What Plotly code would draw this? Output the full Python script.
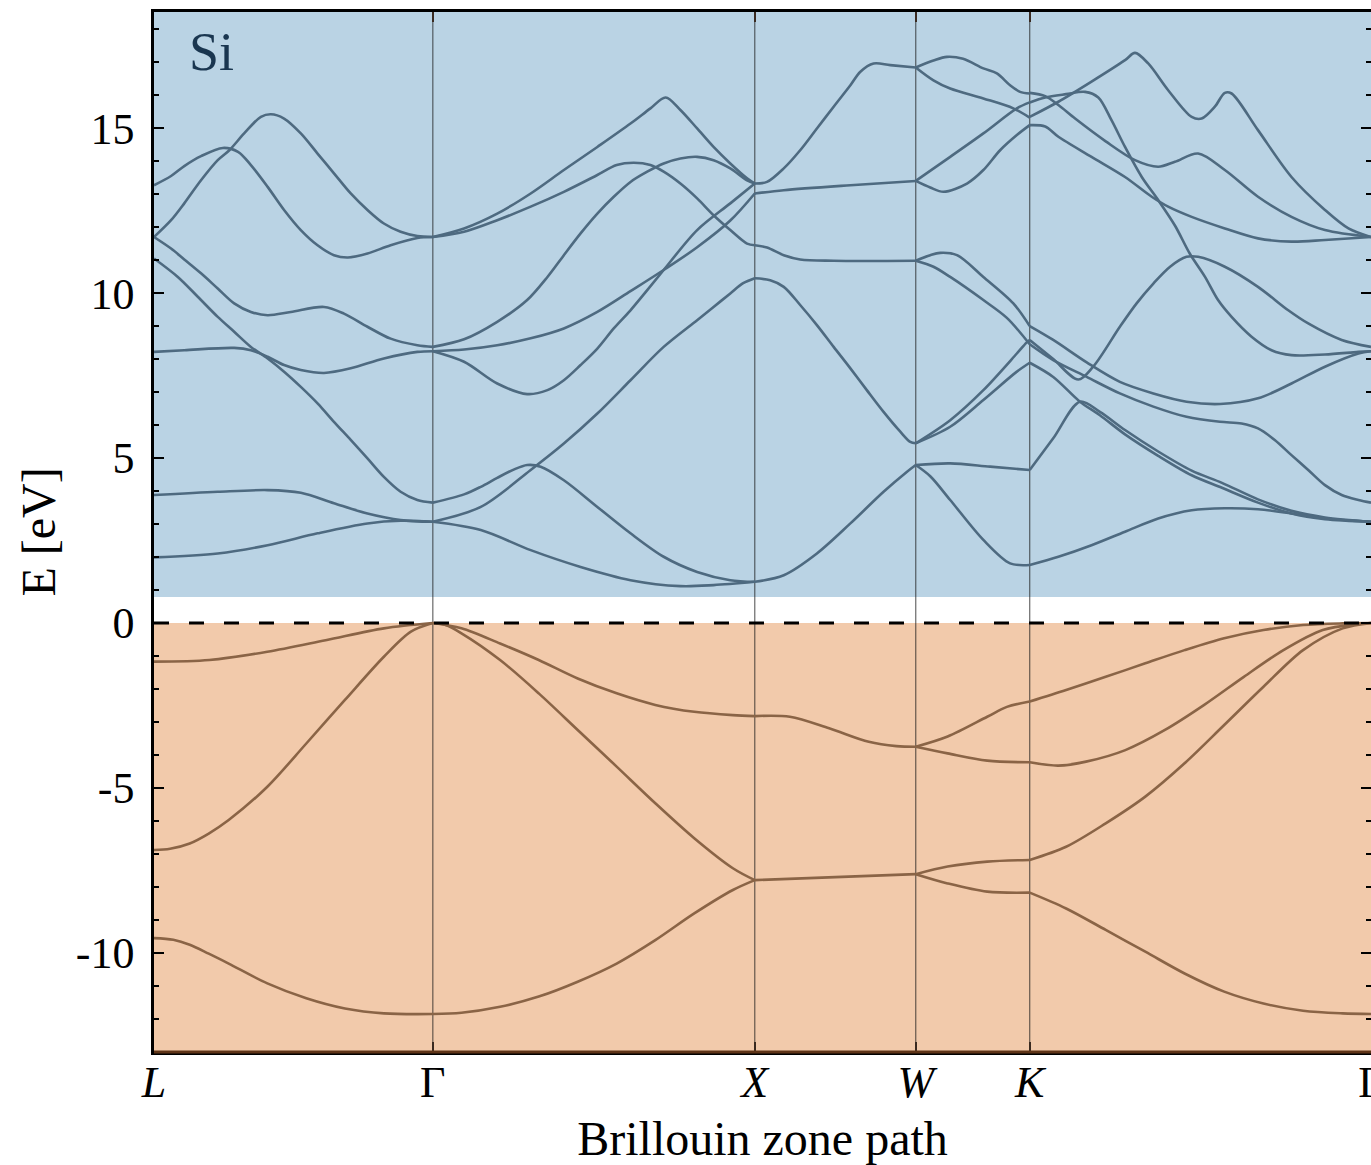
import plotly.graph_objects as go

# ---------------- high-symmetry path (units of 2*pi/a) ----------------
sym_k = [0.0, 0.866, 1.866, 2.366, 2.720, 3.780]
sym_labels = ["<i>L</i>", "Γ", "<i>X</i>", "<i>W</i>", "<i>K</i>", "Γ"]

E_min, E_max = -13.0, 18.52
cb_fill_bottom = 0.79   # lower edge of the shaded conduction region (eV)
y_tick_vals = [-10, -5, 0, 5, 10, 15]
y_tick_text = ["-10", "-5", "0", "5", "10", "15"]

# ---------------- conduction bands, per path segment: (k, E) ----------------
cond_L_G = [
    ([0, 0.053, 0.094, 0.146, 0.214, 0.261, 0.301, 0.353, 0.404, 0.456, 0.508, 0.559, 0.602, 0.663, 0.735, 0.818, 0.866],
     [13.27, 13.55, 13.85, 14.15, 14.40, 14.28, 13.88, 13.22, 12.52, 11.91, 11.45, 11.15, 11.08, 11.2, 11.45, 11.67, 11.7]),
    ([0, 0.053, 0.094, 0.146, 0.198, 0.234, 0.280, 0.332, 0.363, 0.404, 0.456, 0.508, 0.559, 0.611, 0.663, 0.714, 0.766, 0.818, 0.866],
     [11.7, 12.21, 12.72, 13.42, 14.03, 14.33, 14.84, 15.34, 15.42, 15.29, 14.84, 14.23, 13.63, 13.02, 12.52, 12.11, 11.86, 11.73, 11.7]),
    ([0, 0.053, 0.094, 0.146, 0.198, 0.249, 0.301, 0.353, 0.425, 0.528, 0.590, 0.663, 0.735, 0.818, 0.866],
     [11.7, 11.35, 11.02, 10.6, 10.14, 9.69, 9.43, 9.33, 9.43, 9.58, 9.38, 8.98, 8.62, 8.42, 8.37]),
    ([0, 0.074, 0.136, 0.198, 0.249, 0.301, 0.353, 0.404, 0.456, 0.508, 0.559, 0.611, 0.663, 0.714, 0.766, 0.818, 0.866],
     [11.05, 10.49, 9.89, 9.28, 8.83, 8.37, 8.02, 7.62, 7.16, 6.66, 6.1, 5.55, 4.99, 4.43, 3.98, 3.73, 3.65]),
    ([0, 0.094, 0.249, 0.301, 0.353, 0.404, 0.456, 0.528, 0.611, 0.714, 0.818, 0.866],
     [8.22, 8.27, 8.34, 8.27, 8.07, 7.82, 7.67, 7.58, 7.72, 8.02, 8.22, 8.24]),
    ([0, 0.198, 0.353, 0.456, 0.559, 0.663, 0.766, 0.866],
     [3.88, 3.98, 4.03, 3.95, 3.63, 3.32, 3.12, 3.07]),
    ([0, 0.198, 0.353, 0.508, 0.663, 0.766, 0.866],
     [1.99, 2.11, 2.36, 2.72, 3.02, 3.1, 3.07]),
]

cond_G_X = [
    ([0.866, 0.963, 1.066, 1.170, 1.273, 1.377, 1.480, 1.542, 1.589, 1.635, 1.687, 1.738, 1.790, 1.842, 1.866],
     [11.7, 11.96, 12.41, 13.02, 13.73, 14.43, 15.14, 15.6, 15.93, 15.55, 14.99, 14.43, 13.93, 13.48, 13.32]),
    ([0.866, 0.963, 1.066, 1.170, 1.273, 1.377, 1.437, 1.490, 1.542, 1.583, 1.635, 1.687, 1.738, 1.790, 1.842, 1.866],
     [11.7, 11.86, 12.21, 12.62, 13.07, 13.58, 13.88, 13.95, 13.88, 13.68, 13.32, 12.87, 12.36, 11.91, 11.5, 11.45]),
    ([0.866, 0.963, 1.066, 1.159, 1.222, 1.273, 1.325, 1.377, 1.428, 1.480, 1.532, 1.583, 1.635, 1.687, 1.738, 1.790, 1.842, 1.866],
     [8.37, 8.6, 9.13, 9.79, 10.49, 11.15, 11.81, 12.41, 12.92, 13.37, 13.68, 13.93, 14.08, 14.13, 14.03, 13.78, 13.42, 13.32]),
    ([0.866, 0.963, 1.066, 1.170, 1.273, 1.377, 1.480, 1.583, 1.687, 1.790, 1.866],
     [8.24, 8.29, 8.42, 8.63, 8.93, 9.43, 10.06, 10.7, 11.39, 12.2, 13.02]),
    ([0.866, 0.963, 1.066, 1.159, 1.222, 1.273, 1.325, 1.377, 1.428, 1.480, 1.532, 1.583, 1.687, 1.790, 1.866],
     [8.24, 7.92, 7.26, 6.94, 7.06, 7.36, 7.82, 8.32, 8.93, 9.48, 10.09, 10.7, 11.91, 12.72, 13.32]),
    ([0.866, 1.015, 1.170, 1.273, 1.377, 1.480, 1.583, 1.687, 1.738, 1.790, 1.830, 1.866],
     [3.07, 3.52, 4.64, 5.44, 6.35, 7.36, 8.37, 9.18, 9.58, 9.99, 10.3, 10.45]),
    ([0.866, 1.015, 1.170, 1.325, 1.480, 1.635, 1.738, 1.866],
     [3.07, 2.82, 2.21, 1.7, 1.3, 1.12, 1.15, 1.25]),
    ([0.866, 0.963, 1.015, 1.066, 1.117, 1.159, 1.201, 1.273, 1.377, 1.480, 1.583, 1.687, 1.790, 1.866],
     [3.65, 3.9, 4.13, 4.4, 4.65, 4.79, 4.74, 4.33, 3.52, 2.72, 2.01, 1.55, 1.3, 1.25]),
]

cond_X_W = [
    ([1.866, 1.904, 1.956, 2.007, 2.059, 2.111, 2.163, 2.194, 2.235, 2.287, 2.366],
     [13.32, 13.37, 13.78, 14.33, 14.99, 15.65, 16.3, 16.71, 16.96, 16.91, 16.84]),
    ([1.866, 1.956, 2.163, 2.366],
     [13.02, 13.12, 13.27, 13.4]),
    ([1.866, 1.904, 1.956, 2.007, 2.111, 2.366],
     [11.45, 11.38, 11.15, 11.02, 10.98, 10.98]),
    ([1.866, 1.914, 1.956, 2.007, 2.059, 2.111, 2.163, 2.214, 2.266, 2.318, 2.349, 2.366],
     [10.45, 10.39, 10.19, 9.64, 9.03, 8.37, 7.72, 7.06, 6.4, 5.8, 5.49, 5.45]),
    ([1.866, 1.956, 2.059, 2.163, 2.266, 2.338, 2.366],
     [1.25, 1.45, 2.11, 3.02, 3.98, 4.58, 4.79]),
]

cond_W_K = [
    ([2.366, 2.421, 2.463, 2.513, 2.576, 2.618, 2.659, 2.690, 2.720],
     [16.84, 17.05, 17.16, 17.1, 16.81, 16.66, 16.3, 16.1, 16.05]),
    ([2.366, 2.421, 2.473, 2.576, 2.669, 2.720],
     [16.84, 16.45, 16.2, 15.9, 15.6, 15.32]),
    ([2.366, 2.473, 2.576, 2.680, 2.720],
     [13.4, 14.13, 14.84, 15.6, 15.78]),
    ([2.366, 2.411, 2.452, 2.525, 2.576, 2.628, 2.680, 2.720],
     [13.4, 13.2, 13.07, 13.32, 13.73, 14.33, 14.79, 15.09]),
    ([2.366, 2.411, 2.442, 2.494, 2.576, 2.669, 2.720],
     [10.98, 11.15, 11.22, 11.15, 10.49, 9.69, 9.0]),
    ([2.366, 2.421, 2.473, 2.576, 2.649, 2.720],
     [10.98, 10.8, 10.49, 9.79, 9.25, 8.45]),
    ([2.366, 2.473, 2.576, 2.680, 2.710, 2.720],
     [5.45, 6.15, 7.06, 8.17, 8.5, 8.58]),
    ([2.366, 2.473, 2.576, 2.680, 2.720],
     [5.45, 5.95, 6.76, 7.62, 7.89]),
    ([2.366, 2.473, 2.597, 2.720],
     [4.79, 4.84, 4.74, 4.64]),
    ([2.366, 2.411, 2.473, 2.576, 2.659, 2.720],
     [4.79, 4.45, 3.73, 2.52, 1.81, 1.76]),
]

cond_K_G = [
    ([2.720, 2.809, 2.912, 3.016, 3.047, 3.088, 3.150, 3.223, 3.254, 3.295, 3.326, 3.347, 3.429, 3.533, 3.637, 3.710, 3.780],
     [15.34, 15.8, 16.41, 17.06, 17.28, 16.96, 16.15, 15.34, 15.29, 15.65, 16.07, 16.05, 14.94, 13.52, 12.52, 11.96, 11.7]),
    ([2.720, 2.768, 2.809, 2.861, 2.956, 3.047, 3.119, 3.171, 3.243, 3.326, 3.429, 3.533, 3.637, 3.780],
     [16.07, 15.97, 15.7, 15.29, 14.6, 14.03, 13.83, 13.98, 14.23, 13.73, 12.92, 12.31, 11.91, 11.7]),
    ([2.720, 2.768, 2.833, 2.892, 2.933, 2.974, 3.016, 3.068, 3.119, 3.171, 3.217, 3.264, 3.305, 3.347, 3.409, 3.471, 3.533, 3.637, 3.741, 3.780],
     [15.78, 15.93, 16.03, 16.1, 15.93, 15.24, 14.43, 13.52, 12.82, 12.05, 11.2, 10.5, 9.79, 9.28, 8.68, 8.27, 8.12, 8.14, 8.22, 8.24]),
    ([2.720, 2.768, 2.809, 2.912, 3.016, 3.099, 3.150, 3.223, 3.326, 3.429, 3.533, 3.637, 3.780],
     [15.09, 15.05, 14.74, 14.13, 13.52, 12.92, 12.62, 12.31, 11.96, 11.66, 11.56, 11.61, 11.7]),
    ([2.720, 2.793, 2.871, 2.917, 3.000, 3.052, 3.104, 3.156, 3.207, 3.243, 3.326, 3.429, 3.523, 3.585, 3.689, 3.780],
     [8.58, 8.0, 7.38, 7.77, 8.98, 9.69, 10.29, 10.8, 11.1, 11.1, 10.8, 10.19, 9.48, 9.08, 8.58, 8.37]),
    ([2.720, 2.793, 2.897, 3.000, 3.104, 3.207, 3.311, 3.429, 3.533, 3.637, 3.741, 3.780],
     [9.0, 8.58, 7.9, 7.31, 6.96, 6.71, 6.64, 6.81, 7.26, 7.77, 8.17, 8.24]),
    ([2.720, 2.793, 2.897, 3.000, 3.104, 3.207, 3.311, 3.378, 3.429, 3.481, 3.533, 3.585, 3.637, 3.689, 3.741, 3.780],
     [8.45, 7.97, 7.46, 6.96, 6.56, 6.25, 6.1, 6.05, 5.9, 5.55, 5.09, 4.64, 4.18, 3.88, 3.73, 3.65]),
    ([2.720, 2.793, 2.876, 2.938, 3.016, 3.119, 3.223, 3.317, 3.429, 3.533, 3.637, 3.780],
     [4.64, 5.6, 6.71, 6.4, 5.85, 5.2, 4.62, 4.25, 3.75, 3.4, 3.2, 3.07]),
    ([2.720, 2.793, 2.876, 2.938, 3.016, 3.119, 3.223, 3.317, 3.429, 3.533, 3.637, 3.780],
     [7.89, 7.46, 6.71, 6.3, 5.72, 5.07, 4.48, 4.1, 3.65, 3.32, 3.15, 3.07]),
    ([2.720, 2.809, 2.912, 3.016, 3.119, 3.223, 3.326, 3.429, 3.533, 3.637, 3.780],
     [1.76, 2.01, 2.36, 2.77, 3.17, 3.42, 3.48, 3.45, 3.32, 3.17, 3.07]),
]

# ---------------- valence bands ----------------
val_L_G = [
    ([0, 0.172, 0.352, 0.533, 0.714, 0.866], [-1.17, -1.12, -0.87, -0.52, -0.16, 0.0]),
    ([0, 0.05, 0.111, 0.17, 0.232, 0.352, 0.473, 0.593, 0.714, 0.798, 0.866],
     [-6.88, -6.84, -6.68, -6.38, -5.97, -4.96, -3.65, -2.33, -1.02, -0.26, 0.0]),
    ([0, 0.06, 0.111, 0.17, 0.232, 0.352, 0.473, 0.593, 0.714, 0.866],
     [-9.55, -9.6, -9.75, -10.02, -10.32, -10.92, -11.37, -11.68, -11.83, -11.85]),
]
val_G_X = [
    ([0.866, 0.955, 1.075, 1.195, 1.316, 1.437, 1.557, 1.678, 1.798, 1.866], [0.0, -0.16, -0.62, -1.12, -1.68, -2.13, -2.48, -2.69, -2.79, -2.82]),
    ([0.866, 0.906, 0.955, 1.075, 1.195, 1.316, 1.437, 1.557, 1.678, 1.798, 1.866], [0.0, -0.06, -0.31, -1.12, -2.13, -3.24, -4.35, -5.46, -6.52, -7.43, -7.79]),
    ([0.866, 0.955, 1.075, 1.195, 1.316, 1.437, 1.557, 1.678, 1.798, 1.866], [-11.85, -11.81, -11.63, -11.32, -10.87, -10.32, -9.61, -8.8, -8.09, -7.79]),
]
val_X_W = [
    ([1.866, 1.975, 2.097, 2.220, 2.306, 2.366], [-2.82, -2.84, -3.19, -3.6, -3.73, -3.75]),
    ([1.866, 2.116, 2.366], [-7.79, -7.70, -7.61]),
]
val_W_K = [
    ([2.366, 2.465, 2.588, 2.649, 2.720], [-3.75, -3.44, -2.84, -2.54, -2.38]),
    ([2.366, 2.465, 2.588, 2.720], [-3.75, -3.95, -4.17, -4.22]),
    ([2.366, 2.465, 2.588, 2.720], [-7.61, -7.38, -7.23, -7.18]),
    ([2.366, 2.465, 2.588, 2.720], [-7.61, -7.89, -8.14, -8.17]),
]
val_K_G = [
    ([2.720, 2.833, 2.956, 3.079, 3.201, 3.324, 3.446, 3.569, 3.692, 3.780], [-2.38, -2.03, -1.63, -1.22, -0.82, -0.46, -0.21, -0.06, -0.01, 0.0]),
    ([2.720, 2.809, 2.895, 3.017, 3.140, 3.262, 3.385, 3.508, 3.630, 3.741, 3.780], [-4.22, -4.32, -4.2, -3.85, -3.24, -2.48, -1.63, -0.82, -0.21, -0.03, 0.0]),
    ([2.720, 2.833, 2.956, 3.079, 3.201, 3.324, 3.446, 3.569, 3.692, 3.780], [-7.18, -6.78, -6.07, -5.26, -4.25, -3.09, -1.93, -0.82, -0.16, 0.0]),
    ([2.720, 2.833, 2.956, 3.079, 3.201, 3.324, 3.446, 3.569, 3.692, 3.780], [-8.17, -8.65, -9.3, -9.96, -10.62, -11.17, -11.53, -11.75, -11.83, -11.85]),
]

# ---------------- styling ----------------
FONT = "Liberation Serif, Times New Roman, serif"
CB_FILL = "#bad3e4"
VB_FILL = "#f2caab"
CB_LINE = "#4e6a80"
VB_LINE = "#8a6446"

fig = go.Figure()

def add_bands(groups, color):
    for group in groups:
        for k, e in group:
            fig.add_trace(go.Scatter(
                x=k, y=e, mode="lines",
                line=dict(color=color, width=2.6, shape="spline", smoothing=0.9),
                hoverinfo="skip", showlegend=False))

add_bands([cond_L_G, cond_G_X, cond_X_W, cond_W_K, cond_K_G], CB_LINE)
add_bands([val_L_G, val_G_X, val_X_W, val_W_K, val_K_G], VB_LINE)

# dummy trace for the mirrored right-hand tick axis
fig.add_trace(go.Scatter(x=[sym_k[0]], y=[0], yaxis="y2", mode="markers",
                         marker=dict(opacity=0), hoverinfo="skip", showlegend=False))

shapes = [
    dict(type="rect", xref="x", yref="y", x0=sym_k[0], x1=sym_k[-1], y0=cb_fill_bottom, y1=E_max,
         fillcolor=CB_FILL, line=dict(width=0), layer="below"),
    dict(type="rect", xref="x", yref="y", x0=sym_k[0], x1=sym_k[-1], y0=E_min, y1=0,
         fillcolor=VB_FILL, line=dict(width=0), layer="below"),
]
for kk in sym_k[1:-1]:
    shapes.append(dict(type="line", xref="x", yref="y", x0=kk, x1=kk, y0=E_min, y1=E_max,
                       line=dict(color="rgba(25,25,25,0.65)", width=1.2), layer="below"))
shapes.append(dict(type="line", xref="x", yref="y", x0=sym_k[0], x1=sym_k[-1], y0=0, y1=0,
                   line=dict(color="black", width=3, dash="15px,20px"), layer="above"))
shapes.append(dict(type="line", xref="paper", yref="paper", x0=0, x1=1, y0=0, y1=0,
                   line=dict(color="#5e3417", width=3), layer="above"))

fig.update_layout(
    width=1371, height=1165,
    margin=dict(l=154, r=0, t=12, b=113, autoexpand=False),
    paper_bgcolor="white", plot_bgcolor="white",
    font=dict(family=FONT, size=44, color="black"),
    shapes=shapes,
    xaxis=dict(
        range=[sym_k[0], sym_k[-1]], tickmode="array", tickvals=sym_k, ticktext=sym_labels,
        ticks="inside", ticklen=10, tickwidth=2, tickcolor="#3a2a20",
        showline=True, linecolor="black", linewidth=2.5, mirror="ticks",
        showgrid=False, zeroline=False, ticklabeloverflow="allow", automargin=False,
        tickfont=dict(family=FONT, size=44, color="black"), ticklabelstandoff=-11,
        title=dict(text="Brillouin zone path", font=dict(family=FONT, size=48, color="black"), standoff=18),
    ),
    yaxis=dict(
        range=[E_min, E_max], tickmode="array", tickvals=y_tick_vals, ticktext=y_tick_text,
        ticks="inside", ticklen=10, tickwidth=2, tickcolor="black",
        minor=dict(tickmode="linear", tick0=0, dtick=1, ticks="inside", ticklen=5, tickwidth=1.5,
                   tickcolor="black", showgrid=False),
        showline=True, linecolor="black", linewidth=2.5, mirror=False, automargin=False,
        showgrid=False, zeroline=False,
        tickfont=dict(family=FONT, size=44, color="black"), ticklabelstandoff=8,
        title=dict(text="E [eV]", font=dict(family=FONT, size=48, color="black"), standoff=5),
    ),
    yaxis2=dict(
        range=[E_min, E_max], overlaying="y", side="right", tickmode="array", tickvals=y_tick_vals,
        showticklabels=False, ticks="inside", ticklen=10, tickwidth=2, tickcolor="black",
        minor=dict(tickmode="linear", tick0=0, dtick=1, ticks="inside", ticklen=5, tickwidth=1.5,
                   tickcolor="black", showgrid=False),
        showline=False, showgrid=False, zeroline=False, automargin=False,
    ),
    annotations=[dict(text="Si", xref="paper", yref="paper", x=0.027, y=0.962,
                      xanchor="left", yanchor="middle", showarrow=False,
                      font=dict(family=FONT, size=54, color="#1a3650"))],
)

fig.write_html("out.html")
